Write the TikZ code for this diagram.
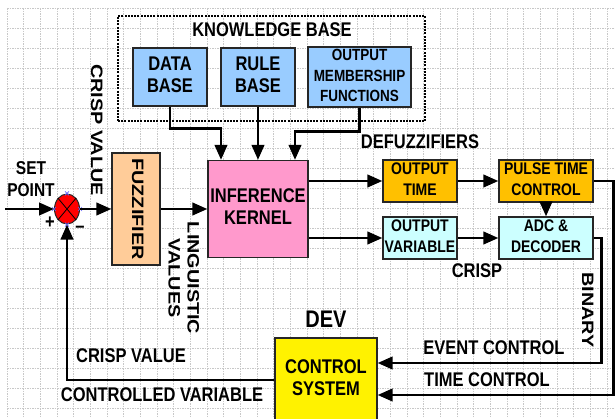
\documentclass[tikz,border=0pt]{standalone}
\usepackage{fontspec}
\setmainfont{Liberation Sans}
\usetikzlibrary{arrows.meta}
\definecolor{kbblue}{HTML}{99CCFF}
\definecolor{kernpink}{HTML}{FF99CC}
\definecolor{fuzzorange}{HTML}{FFCC99}
\definecolor{defgold}{HTML}{FFC000}
\definecolor{defcyan}{HTML}{CCFFFF}
\definecolor{gridgray}{HTML}{C8C8C8}
\newcommand{\fbig}{\fontsize{16.5}{19}\selectfont}
\newcommand{\fmid}{\fontsize{14}{17.5}\selectfont}
\newcommand{\fsml}{\fontsize{13.5}{16.7}\selectfont}
\newcommand{\vtxt}[1]{\scalebox{1}[1.2]{\begin{tabular}{@{}c@{}}#1\end{tabular}}}
\newcommand{\rtxt}[1]{\rotatebox{-90}{\scalebox{1.2}[1]{\begin{tabular}{@{}c@{}}#1\end{tabular}}}}
\tikzset{every picture/.style={x=1pt,y=-1pt},
  gridline/.style={draw=gridgray, line width=0.6pt, dash pattern=on 1.5pt off 1pt},
  box/.style={rectangle, draw=black!85, line width=1.3pt, inner sep=0pt, font=\bfseries\fmid},
  lbl/.style={inner sep=0pt, font=\bfseries\fbig},
  flow/.style={line width=2.6pt, -{Triangle[length=15pt,width=12.5pt]}}}

\begin{document}
\begin{tikzpicture}
        \useasboundingbox (0,0) rectangle (615,418);
        \fill[white] (0,0) rectangle (615,418);
        \foreach \i in {0,...,36}
          \draw[gridline] ({7+16.667*\i},8) -- ({7+16.667*\i},418);
        \foreach \j in {0,...,20}
          \draw[gridline] (7,{8+20*\j}) -- (615,{8+20*\j});

        % knowledge base
        \node[draw, line width=1.2pt, dash pattern=on 2pt off 1.2pt, minimum width=307pt, minimum height=105pt] (kb) at (271.5,68.5) {};
        \node[lbl] (kbt) at (272,32) {\vtxt{KNOWLEDGE BASE}};
        \node[box, fill=kbblue, font=\bfseries\fbig, minimum width=74pt, minimum height=58pt] (db) at (170,77) {\vtxt{DATA\\BASE}};
        \node[box, fill=kbblue, font=\bfseries\fbig, minimum width=74pt, minimum height=58pt] (rb) at (258,77) {\vtxt{RULE\\BASE}};
        \node[box, fill=kbblue, font=\bfseries\fsml, minimum width=103pt, minimum height=58pt] (omf) at (359.5,77) {\vtxt{OUTPUT\\MEMBERSHIP\\FUNCTIONS}};

        % main chain
        \node[box, fill=fuzzorange, font=\bfseries\fbig, minimum width=48pt, minimum height=112pt] (fuzz) at (136,209) {\rtxt{FUZZIFIER}};
        \node[box, fill=kernpink, font=\bfseries\fbig, minimum width=100pt, minimum height=97pt] (kern) at (258,209) {\vtxt{INFERENCE\\KERNEL}};
        \node[box, fill=defgold, minimum width=74pt, minimum height=40pt] (ot) at (420,181) {\vtxt{OUTPUT\\TIME}};
        \node[box, fill=defgold, minimum width=94pt, minimum height=40pt] (ptc) at (546,181) {\vtxt{PULSE TIME\\CONTROL}};
        \node[box, fill=defcyan, minimum width=74pt, minimum height=40pt] (ov) at (420,238) {\vtxt{OUTPUT\\VARIABLE}};
        \node[box, fill=defcyan, minimum width=94pt, minimum height=40pt] (adc) at (546,238) {\vtxt{ADC \&\\DECODER}};
        \node[box, fill=yellow, font=\bfseries\fbig, minimum width=102pt, minimum height=84pt] (cs) at (326,380) {\vtxt{CONTROL\\SYSTEM}};

        % summing point
        \node[circle, draw=black!85, line width=1pt, fill=red, minimum size=25pt, inner sep=0pt, yscale=1.2] (sum) at (67,209) {};
        \draw[line width=0.8pt] (sum.north west) -- (sum.south east) (sum.north east) -- (sum.south west);
        \foreach \a in {north,south,east,west}
          \draw[blue!60, line width=0.6pt] ([shift={(-2pt,-2pt)}]sum.\a) -- ([shift={(2pt,2pt)}]sum.\a)
            ([shift={(-2pt,2pt)}]sum.\a) -- ([shift={(2pt,-2pt)}]sum.\a);
        \coordinate (sp) at (5,209);

        \foreach \from/\to in {sp/sum, sum/fuzz, fuzz/kern, rb/kern, ot/ptc, ov/adc, ptc/adc}
          \draw[flow] (\from) -- (\to);
        \draw[flow] (db.south) -- ++(0,22) -| ([xshift=-37pt]kern.north);
        \draw[flow] (omf.south) -- ++(0,24) -| ([xshift=37pt]kern.north);
        \draw[flow] (kern.east |- ot.west) -- (ot.west);
        \draw[flow] (kern.east |- ov.west) -- (ov.west);
        \draw[flow] (adc.east) -- ++(8,0) |- ([yshift=17pt]cs.east);
        \draw[flow] (ptc.east) -- ++(20,0) |- ([yshift=-15pt]cs.east);
        \draw[flow] (cs.west) -| (sum.south);

        % labels
        \node[lbl, font=\bfseries\fontsize{15.5}{19}\selectfont] (setpt) at (31,181) {\vtxt{SET\\POINT}};
        \node[lbl] (plus) at (50,224) {\vtxt{+}};
        \node[lbl] (minus) at (80,228) {\vtxt{--}};
        \node[lbl] (cv1) at (95,130) {\rtxt{CRISP VALUE}};
        \node[lbl] (lv) at (182,278) {\rtxt{LINGUISTIC\\VALUES}};
        \node[lbl] (defz) at (420,144) {\vtxt{DEFUZZIFIERS}};
        \node[lbl] (crisp) at (477,273) {\vtxt{CRISP}};
        \node[lbl] (bin) at (586,310) {\rtxt{BINARY}};
        \node[lbl] (evc) at (494,350) {\vtxt{EVENT CONTROL}};
        \node[lbl] (tmc) at (487,382) {\vtxt{TIME CONTROL}};
        \node[lbl, font=\bfseries\fontsize{20}{22}\selectfont] (dev) at (326,322) {\vtxt{DEV}};
        \node[lbl] (cv2) at (131,358) {\vtxt{CRISP VALUE}};
        \node[lbl] (ctv) at (162,397) {\vtxt{CONTROLLED VARIABLE}};
      \end{tikzpicture}
\end{document}
